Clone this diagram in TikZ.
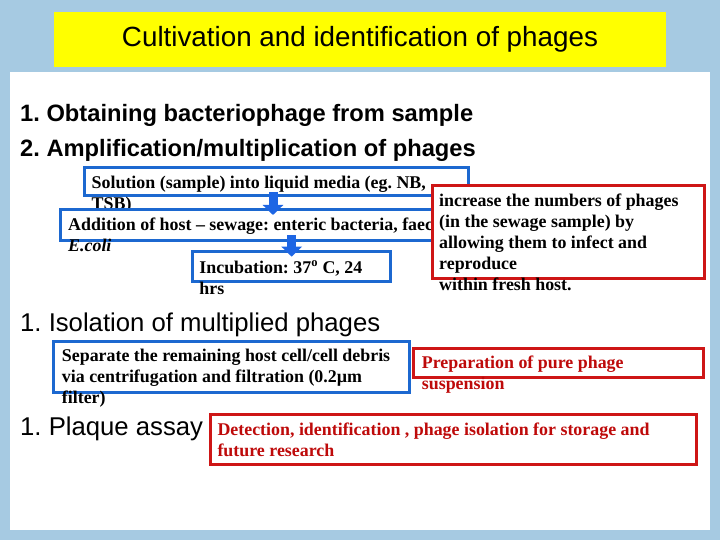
\documentclass[tikz,border=0pt]{standalone}
\usepackage{fontspec}
\setmainfont{Liberation Serif}
\setsansfont{Liberation Sans}
\usepackage{tikz}
\usetikzlibrary{arrows.meta,calc}
\definecolor{bgblue}{RGB}{166,202,226}
\definecolor{titleyellow}{RGB}{255,255,0}
\definecolor{boxblue}{RGB}{28,104,208}
\definecolor{boxred}{RGB}{206,22,22}
\definecolor{textred}{RGB}{190,10,10}
\definecolor{arrowblue}{RGB}{30,102,228}
\newcommand{\boxlines}[1]{\begin{tabular}[t]{@{}l@{}}#1\end{tabular}}
\frenchspacing

\begin{document}
\begin{tikzpicture}[x=1pt,y=-1pt,
    titlebox/.style={fill=titleyellow, inner sep=0pt, outer sep=0pt, font=\fontsize{27.8}{32}\selectfont\sffamily},
    item/.style={anchor=base west, inner sep=0pt, font=\fontsize{23.7}{27}\selectfont\sffamily\bfseries},
    subitem/.style={anchor=base west, inner sep=0pt, font=\fontsize{25.7}{30}\selectfont\sffamily},
    bluebox/.style={draw=boxblue, line width=3pt, fill=white, inner sep=0pt, outer sep=0pt, anchor=north west},
    redbox/.style={draw=boxred, line width=3pt, fill=white, inner sep=0pt, outer sep=0pt, anchor=north west},
    boxtext/.style={anchor=base west, inner sep=0pt, font=\fontsize{17.9}{21}\selectfont\bfseries},
    blockarrow/.style={draw=arrowblue, line width=9pt, -{Triangle[width=20pt,length=10pt]}}]
    \useasboundingbox (0,0) rectangle (720,540);
    % background and slide panel
    \fill [bgblue] (0,0) rectangle (720,540);
    \fill [white] (10,72) rectangle (710,530);
    \node [titlebox, minimum width=612pt, minimum height=55pt] (title) at (360,39.5) {Cultivation and identification of phages};
    % headings
    \node [item] (obtain) at (20,121.7) {1. Obtaining bacteriophage from sample};
    \node [item] (amplify) at (20,157) {2. Amplification/multiplication of phages};
    \node [subitem] (isolate) at (20,331) {1. Isolation of multiplied phages};
    \node [subitem] (plaque) at (20,435) {1. Plaque assay};
    % amplification steps
    \node [bluebox, minimum width=384pt, minimum height=28pt] (solution) at (84,168) {};
    \node [boxtext] (solutiontxt) at ($(solution.north west)+(7.5,21)$) {\boxlines{Solution (sample) into liquid media (eg. NB,\\TSB)}};
    \node [bluebox, minimum width=390pt, minimum height=30pt] (addition) at (60,210) {};
    \node [boxtext] (additiontxt) at ($(addition.north west)+(8,20.7)$) {\boxlines{Addition of host -- sewage: enteric bacteria, faecal\\\textit{E.coli}}};
    \node [bluebox, minimum width=198pt, minimum height=30pt] (incubation) at (192.7,251.7) {};
    \node [boxtext] (incubationtxt) at ($(incubation.north west)+(6.5,21.3)$) {\boxlines{Incubation: 37\textsuperscript{o} C, 24\\hrs}};
    \draw [blockarrow] ($(solution.south)+(-3,-4)$) -- ($(solution.south |- addition.north)+(-3,5)$);
    \draw [blockarrow] ($(incubation.north |- addition.south)+(0,-5)$) -- ($(incubation.north)+(0,5)$);
    \node [redbox, minimum width=272pt, minimum height=92pt] (increase) at (432,186) {};
    \node [boxtext] (increasetxt) at ($(increase.north west)+(7,20.7)$) {\boxlines{increase the numbers of phages\\(in the sewage sample) by\\allowing them to infect and\\reproduce\\within fresh host.}};
    % isolation and assay
    \node [bluebox, minimum width=356pt, minimum height=50.6pt] (separate) at (53.3,341.7) {};
    \node [boxtext] (separatetxt) at ($(separate.north west)+(8.4,20)$) {\boxlines{Separate the remaining host cell/cell debris\\via centrifugation and filtration (0.2µm\\filter)}};
    \node [redbox, minimum width=290pt, minimum height=29pt] (preparation) at (413.3,348.3) {};
    \node [boxtext, text=textred] (preparationtxt) at ($(preparation.north west)+(8.4,20)$) {\boxlines{Preparation of pure phage\\suspension}};
    \node [redbox, minimum width=486.7pt, minimum height=50.3pt] (detection) at (210,414) {};
    \node [boxtext, text=textred] (detectiontxt) at ($(detection.north west)+(7.3,21)$) {\boxlines{Detection, identification , phage isolation for storage and\\future research}};
\end{tikzpicture}
\end{document}
